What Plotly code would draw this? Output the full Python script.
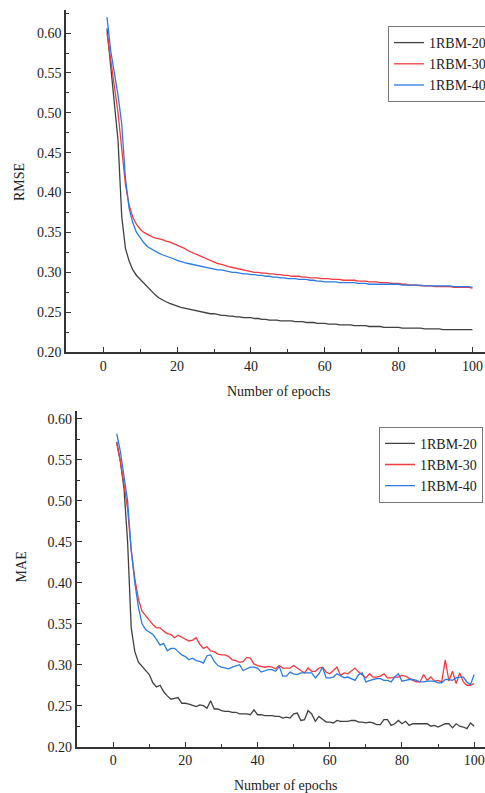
import plotly.graph_objects as go

epochs = list(range(1, 101))
series_names = ["1RBM-20", "1RBM-30", "1RBM-40"]
colors = ["#404040", "#f23a3f", "#2b7be4"]

rmse_20 = [0.606, 0.560, 0.515, 0.465, 0.370, 0.330, 0.314, 0.303, 0.296, 0.291,
           0.287, 0.282, 0.277, 0.272, 0.268, 0.265, 0.263, 0.261, 0.259, 0.258,
           0.256, 0.255, 0.254, 0.253, 0.252, 0.251, 0.250, 0.249, 0.248, 0.248,
           0.247, 0.246, 0.246, 0.245, 0.245, 0.244, 0.244, 0.243, 0.243, 0.243,
           0.242, 0.242, 0.241, 0.241, 0.240, 0.240, 0.240, 0.239, 0.239, 0.239,
           0.239, 0.238, 0.238, 0.238, 0.237, 0.237, 0.237, 0.236, 0.236, 0.236,
           0.235, 0.235, 0.235, 0.234, 0.234, 0.234, 0.234, 0.233, 0.233, 0.233,
           0.233, 0.232, 0.232, 0.232, 0.232, 0.231, 0.231, 0.231, 0.231, 0.231,
           0.230, 0.230, 0.230, 0.230, 0.230, 0.230, 0.229, 0.229, 0.229, 0.229,
           0.229, 0.228, 0.228, 0.228, 0.228, 0.228, 0.228, 0.228, 0.228, 0.228]
rmse_30 = [0.600, 0.567, 0.535, 0.500, 0.455, 0.410, 0.384, 0.369, 0.360, 0.354,
           0.350, 0.347, 0.345, 0.343, 0.342, 0.341, 0.339, 0.338, 0.336, 0.334,
           0.332, 0.330, 0.327, 0.325, 0.322, 0.320, 0.318, 0.316, 0.315, 0.313,
           0.311, 0.310, 0.308, 0.307, 0.306, 0.305, 0.304, 0.303, 0.302, 0.301,
           0.300, 0.300, 0.299, 0.299, 0.298, 0.298, 0.297, 0.297, 0.296, 0.296,
           0.295, 0.295, 0.295, 0.294, 0.294, 0.293, 0.293, 0.293, 0.292, 0.292,
           0.292, 0.291, 0.291, 0.291, 0.290, 0.290, 0.290, 0.290, 0.289, 0.289,
           0.289, 0.288, 0.288, 0.288, 0.287, 0.287, 0.287, 0.286, 0.286, 0.286,
           0.285, 0.285, 0.284, 0.284, 0.284, 0.283, 0.283, 0.283, 0.283, 0.282,
           0.282, 0.282, 0.282, 0.282, 0.281, 0.281, 0.281, 0.281, 0.281, 0.280]
rmse_40 = [0.620, 0.578, 0.550, 0.522, 0.486, 0.418, 0.380, 0.362, 0.350, 0.343,
           0.337, 0.332, 0.329, 0.326, 0.324, 0.322, 0.320, 0.318, 0.317, 0.315,
           0.313, 0.312, 0.311, 0.310, 0.309, 0.308, 0.307, 0.306, 0.305, 0.304,
           0.303, 0.303, 0.302, 0.301, 0.300, 0.300, 0.299, 0.298, 0.298, 0.297,
           0.297, 0.296, 0.296, 0.295, 0.295, 0.294, 0.294, 0.293, 0.293, 0.292,
           0.292, 0.292, 0.291, 0.291, 0.291, 0.290, 0.290, 0.289, 0.289, 0.288,
           0.288, 0.288, 0.288, 0.287, 0.287, 0.287, 0.287, 0.287, 0.286, 0.286,
           0.286, 0.285, 0.285, 0.285, 0.285, 0.285, 0.285, 0.285, 0.285, 0.285,
           0.284, 0.284, 0.284, 0.284, 0.284, 0.284, 0.283, 0.283, 0.283, 0.283,
           0.283, 0.283, 0.283, 0.283, 0.282, 0.282, 0.282, 0.282, 0.282, 0.281]

mae_20 = [0.572, 0.548, 0.515, 0.450, 0.345, 0.316, 0.303, 0.298, 0.294, 0.288,
          0.278, 0.273, 0.275, 0.267, 0.262, 0.258, 0.259, 0.260, 0.253, 0.253,
          0.252, 0.250, 0.249, 0.251, 0.250, 0.247, 0.256, 0.246, 0.246, 0.244,
          0.243, 0.243, 0.242, 0.242, 0.240, 0.240, 0.240, 0.239, 0.245, 0.239,
          0.239, 0.238, 0.238, 0.238, 0.237, 0.237, 0.235, 0.236, 0.235, 0.240,
          0.241, 0.232, 0.233, 0.244, 0.240, 0.231, 0.237, 0.233, 0.230, 0.230,
          0.229, 0.232, 0.231, 0.231, 0.231, 0.232, 0.232, 0.230, 0.230, 0.229,
          0.230, 0.229, 0.227, 0.227, 0.233, 0.233, 0.226, 0.228, 0.232, 0.228,
          0.231, 0.226, 0.228, 0.228, 0.228, 0.228, 0.228, 0.225, 0.226, 0.224,
          0.226, 0.228, 0.228, 0.223, 0.228, 0.225, 0.224, 0.222, 0.229, 0.225]
mae_30 = [0.570, 0.548, 0.520, 0.490, 0.440, 0.405, 0.380, 0.365, 0.360, 0.354,
          0.349, 0.345, 0.345, 0.341, 0.338, 0.337, 0.333, 0.336, 0.334, 0.331,
          0.329, 0.330, 0.333, 0.325, 0.320, 0.322, 0.317, 0.316, 0.313, 0.312,
          0.312, 0.310, 0.306, 0.305, 0.303, 0.304, 0.309, 0.308, 0.301, 0.299,
          0.298, 0.297, 0.298, 0.297, 0.295, 0.299, 0.296, 0.296, 0.296, 0.299,
          0.296, 0.293, 0.290, 0.296, 0.292, 0.292, 0.296, 0.297, 0.291, 0.289,
          0.293, 0.297, 0.287, 0.290, 0.289, 0.292, 0.296, 0.291, 0.288, 0.284,
          0.289, 0.285, 0.285, 0.286, 0.289, 0.284, 0.284, 0.285, 0.285, 0.287,
          0.286, 0.283, 0.281, 0.279, 0.279, 0.288, 0.281, 0.285, 0.280, 0.281,
          0.279, 0.306, 0.280, 0.292, 0.277, 0.290, 0.279, 0.275, 0.275, 0.277]
mae_40 = [0.582, 0.560, 0.530, 0.500, 0.440, 0.400, 0.370, 0.350, 0.343, 0.340,
          0.337, 0.331, 0.324, 0.326, 0.317, 0.320, 0.320, 0.316, 0.312, 0.310,
          0.306, 0.308, 0.305, 0.304, 0.302, 0.311, 0.312, 0.304, 0.299, 0.297,
          0.296, 0.295, 0.297, 0.299, 0.300, 0.293, 0.295, 0.297, 0.297, 0.296,
          0.291, 0.293, 0.294, 0.294, 0.292, 0.298, 0.286, 0.286, 0.291, 0.289,
          0.288, 0.290, 0.290, 0.290, 0.290, 0.284, 0.289, 0.297, 0.284, 0.284,
          0.285, 0.289, 0.287, 0.284, 0.285, 0.283, 0.281, 0.288, 0.290, 0.279,
          0.281, 0.282, 0.283, 0.283, 0.281, 0.281, 0.279, 0.285, 0.289, 0.280,
          0.281, 0.282, 0.282, 0.281, 0.279, 0.279, 0.280, 0.280, 0.280, 0.278,
          0.278, 0.282, 0.282, 0.281, 0.284, 0.285, 0.285, 0.279, 0.276, 0.288]

x_ticks = [0, 20, 40, 60, 80, 100]
y_ticks = [0.20, 0.25, 0.30, 0.35, 0.40, 0.45, 0.50, 0.55, 0.60]

W, H = 485, 793
FONT = "Liberation Serif, Times New Roman, serif"
AX = "#333333"

fig = go.Figure()
for name, col, ys in zip(series_names, colors, [rmse_20, rmse_30, rmse_40]):
    fig.add_trace(go.Scatter(x=epochs, y=ys, mode="lines", name=name,
                             line=dict(color=col, width=1.3),
                             xaxis="x", yaxis="y", legend="legend"))
for name, col, ys in zip(series_names, colors, [mae_20, mae_30, mae_40]):
    fig.add_trace(go.Scatter(x=epochs, y=ys, mode="lines", name=name,
                             line=dict(color=col, width=1.3),
                             xaxis="x2", yaxis="y2", legend="legend2"))

def xax(domain, rng, anchor):
    return dict(domain=domain, range=rng, anchor=anchor, tickvals=x_ticks,
                showgrid=False, zeroline=False, showline=True, linecolor=AX,
                linewidth=1.6, ticks="inside", ticklen=5, tickwidth=1.3,
                tickcolor=AX, minor=dict(ticks="inside", ticklen=3, tickwidth=1,
                                         tickcolor=AX, dtick=10, tick0=0),
                tickfont=dict(family=FONT, size=14, color="#222"), fixedrange=True)

def yax(domain, rng, anchor):
    return dict(domain=domain, range=rng, anchor=anchor, tickvals=y_ticks,
                tickformat=".2f", showgrid=False, zeroline=False, showline=True,
                linecolor=AX, linewidth=1.6, ticks="inside", ticklen=5,
                tickwidth=1.3, tickcolor=AX,
                minor=dict(ticks="inside", ticklen=3, tickwidth=1, tickcolor=AX,
                           dtick=0.025, tick0=0.2),
                tickfont=dict(family=FONT, size=14, color="#222"), fixedrange=True)

def note(text, x, y, angle=0):
    return dict(text=text, x=x / W, y=1 - y / H, xref="paper", yref="paper",
                xanchor="center", yanchor="middle", textangle=angle,
                showarrow=False, font=dict(family=FONT, size=14, color="#222"))

fig.update_layout(
    width=W, height=H, margin=dict(l=0, r=0, t=0, b=0, autoexpand=False),
    paper_bgcolor="white", plot_bgcolor="white", showlegend=True,
    xaxis=xax([66 / W, 1.0], [-10.1, 103.4], "y"),
    yaxis=yax([1 - 352 / H, 1 - 10 / H], [0.20, 0.629], "x"),
    xaxis2=xax([76.7 / W, 1.0], [-10.1, 103.0], "y2"),
    yaxis2=yax([1 - 746.7 / H, 1 - 410.7 / H], [0.20, 0.610], "x2"),
    legend=dict(x=388 / W, y=1 - 26 / H, xanchor="left", yanchor="top",
                bordercolor="#777", borderwidth=1, bgcolor="white",
                font=dict(family=FONT, size=14, color="#222"),
                tracegroupgap=0, itemwidth=30),
    legend2=dict(x=379 / W, y=1 - 426.7 / H, xanchor="left", yanchor="top",
                 bordercolor="#777", borderwidth=1, bgcolor="white",
                 font=dict(family=FONT, size=14, color="#222"),
                 tracegroupgap=0, itemwidth=30),
    annotations=[
        note("RMSE", 19, 182, -90),
        note("Number of epochs", 278, 391),
        note("MAE", 21.7, 566.7, -90),
        note("Number of epochs", 285, 785),
    ],
)

fig.write_html("out.html")
